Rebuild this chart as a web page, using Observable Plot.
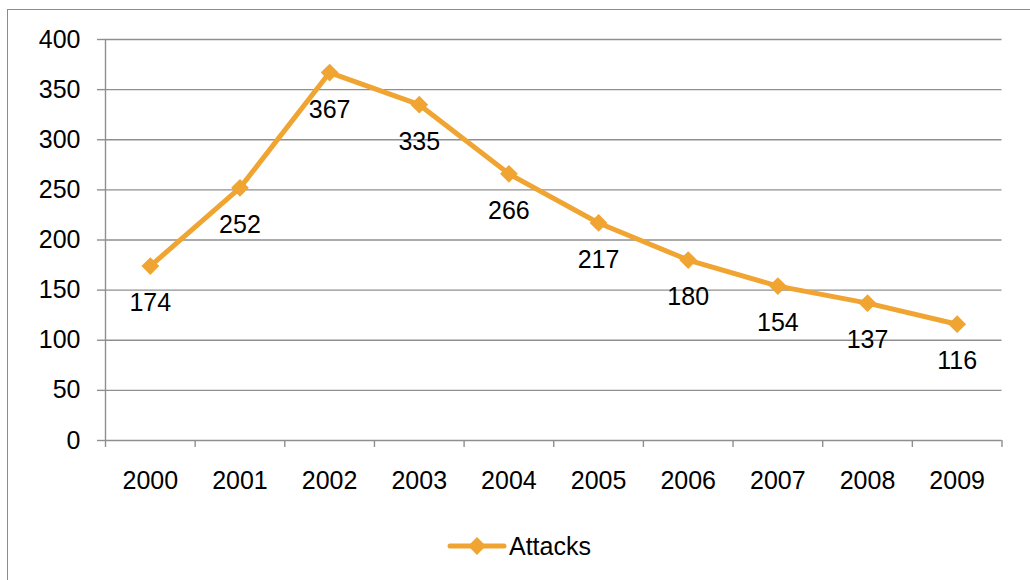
<!DOCTYPE html>
<html>
<head>
<meta charset="utf-8">
<script src="https://cdn.jsdelivr.net/npm/d3@7"></script>
<script src="https://cdn.jsdelivr.net/npm/@observablehq/plot@0.6"></script>
<style>
  html, body { margin: 0; padding: 0; background: #fff; overflow: hidden; width: 1030px; height: 580px; }
  #frame { position: absolute; left: 7px; top: 9px; width: 1100px; height: 700px; border: 1.5px solid #8c8c8c; box-sizing: border-box; }
  #chart { position: absolute; left: 0; top: 0; }
  #legend { position: absolute; left: 447px; top: 530px; height: 32px; display: flex; align-items: center;
            font-family: "Liberation Sans", Arial, sans-serif; font-size: 25px; color: #000; }
  #legend svg { margin-right: 2px; }
</style>
</head>
<body>
<div id="frame"></div>
<div id="chart"></div>
<div id="legend"></div>
<script>
const years = [2000, 2001, 2002, 2003, 2004, 2005, 2006, 2007, 2008, 2009];
const attacks = [174, 252, 367, 335, 266, 217, 180, 154, 137, 116];
const yTicks = [0, 50, 100, 150, 200, 250, 300, 350, 400];
const seriesName = "Attacks";
const lineColor = "#F0A431";
const gridColor = "#8f8f8f";

const data = years.map((year, i) => ({year, value: attacks[i]}));
const edges = [...years.map(y => y - 0.5), years[years.length - 1] + 0.5];

const chart = Plot.plot({
  width: 1030,
  height: 500,
  marginLeft: 105,
  marginRight: 28.5,
  marginTop: 39,
  marginBottom: 60,
  style: {fontFamily: "Liberation Sans, Arial, sans-serif", fontSize: "25px", color: "#000", background: "transparent", overflow: "visible"},
  x: {type: "linear", domain: [edges[0], edges[edges.length - 1]], axis: null, label: null},
  y: {domain: [0, 400], axis: null, label: null},
  marks: [
    Plot.gridY(yTicks, {stroke: gridColor, strokeOpacity: 1, strokeWidth: 1.4}),
    Plot.axisY({ticks: yTicks, label: null, tickSize: 8, tickPadding: 17, stroke: gridColor, strokeWidth: 1.4, fontSize: 25, fill: "#000", tickFormat: d => String(d)}),
    Plot.ruleX([edges[0]], {y1: 0, y2: 400, stroke: gridColor, strokeWidth: 1.4}),
    Plot.axisX({ticks: edges, label: null, tickSize: 7, tickFormat: () => "", stroke: gridColor, strokeWidth: 1.4}),
    Plot.axisX({ticks: years, label: null, tickSize: 0, tickPadding: 31, fontSize: 25, fill: "#000", tickFormat: d => String(d)}),
    Plot.line(data, {x: "year", y: "value", stroke: lineColor, strokeWidth: 5, strokeLinejoin: "round"}),
    Plot.dot(data, {x: "year", y: "value", symbol: "diamond2", r: 8, fill: lineColor, stroke: "none"}),
    Plot.text(data, {x: "year", y: "value", text: d => String(d.value), dy: 37, fontSize: 25, fill: "#000"})
  ]
});
document.getElementById("chart").appendChild(chart);

// legend
const legend = document.getElementById("legend");
const ns = "http://www.w3.org/2000/svg";
const sym = document.createElementNS(ns, "svg");
sym.setAttribute("width", "60");
sym.setAttribute("height", "24");
const ln = document.createElementNS(ns, "line");
ln.setAttribute("x1", "3"); ln.setAttribute("x2", "57");
ln.setAttribute("y1", "12"); ln.setAttribute("y2", "12");
ln.setAttribute("stroke", lineColor); ln.setAttribute("stroke-width", "5"); ln.setAttribute("stroke-linecap", "round");
const dm = document.createElementNS(ns, "path");
dm.setAttribute("d", d3.symbol(d3.symbolDiamond2, 8 * 8 * Math.PI)());
dm.setAttribute("transform", "translate(30,12)");
dm.setAttribute("fill", lineColor);
sym.appendChild(ln); sym.appendChild(dm);
legend.appendChild(sym);
const lbl = document.createElement("span");
lbl.textContent = seriesName;
legend.appendChild(lbl);
</script>
</body>
</html>
